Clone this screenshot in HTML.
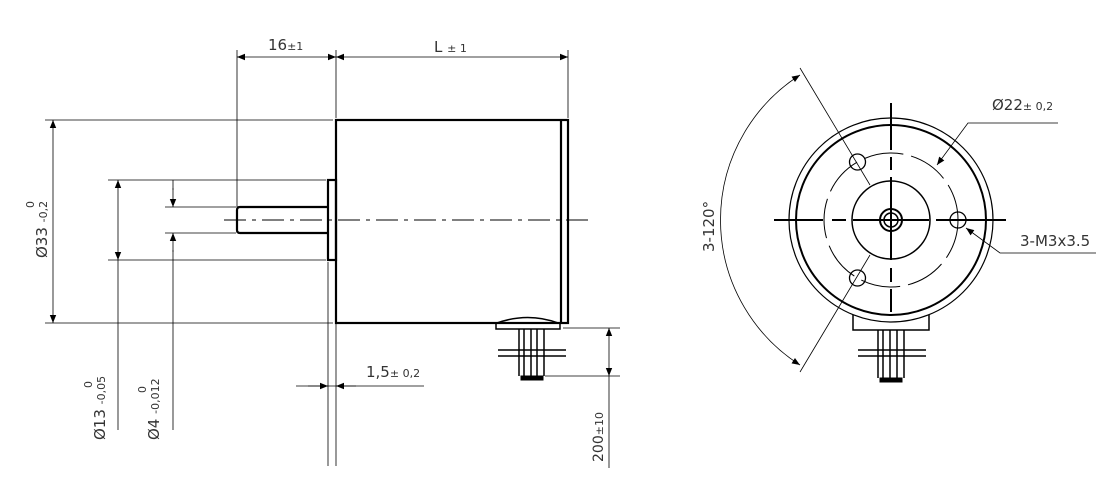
<!DOCTYPE html>
<html><head><meta charset="utf-8"><style>
html,body{margin:0;padding:0;background:#fff;width:1104px;height:480px;overflow:hidden}
text{font-family:"DejaVu Sans","Liberation Sans",sans-serif;fill:#333}
</style></head><body>
<svg width="1104" height="480" viewBox="0 0 1104 480" xmlns="http://www.w3.org/2000/svg">
<defs>
<marker id="a" viewBox="0 0 10 10" refX="10" refY="5" markerWidth="17" markerHeight="8" markerUnits="userSpaceOnUse" orient="auto-start-reverse"><path d="M0,1 L10,5 L0,9z" fill="#000"/></marker>
</defs>
<g stroke="#000" fill="none">
<g stroke-width="0.8">
<line x1="237" y1="50" x2="237" y2="207"/>
<line x1="336" y1="50" x2="336" y2="118"/>
<line x1="568" y1="50" x2="568" y2="118"/>
<line x1="45" y1="120" x2="333" y2="120"/>
<line x1="45" y1="323" x2="333" y2="323"/>
<line x1="108" y1="180" x2="326" y2="180"/>
<line x1="108" y1="260" x2="326" y2="260"/>
<line x1="165" y1="207" x2="236" y2="207"/>
<line x1="165" y1="233" x2="236" y2="233"/>
<line x1="328" y1="262" x2="328" y2="466"/>
<line x1="336" y1="323" x2="336" y2="466"/>
<line x1="563" y1="328" x2="620" y2="328"/>
<line x1="545" y1="376" x2="620" y2="376"/>
<line x1="118" y1="260" x2="118" y2="430"/>
<line x1="173" y1="250" x2="173" y2="430"/>
<line x1="609" y1="376" x2="609" y2="468"/>
<line x1="296" y1="386" x2="424" y2="386"/>
</g>
<g stroke-width="0.8" marker-start="url(#a)" marker-end="url(#a)">
<line x1="237" y1="57" x2="336" y2="57"/>
<line x1="336" y1="57" x2="568" y2="57"/>
<line x1="53" y1="120" x2="53" y2="323"/>
<line x1="118" y1="180" x2="118" y2="260"/>
<line x1="609" y1="328" x2="609" y2="376"/>
</g>
<line x1="173" y1="188" x2="173" y2="207" stroke-width="0.8" marker-end="url(#a)"/>
<line x1="173" y1="252" x2="173" y2="233" stroke-width="0.8" marker-end="url(#a)"/>
<line x1="173" y1="180" x2="173" y2="190" stroke-width="0.8"/>
<line x1="308" y1="386" x2="328" y2="386" stroke-width="0.8" marker-end="url(#a)"/>
<line x1="356" y1="386" x2="336" y2="386" stroke-width="0.8" marker-end="url(#a)"/>
<g stroke-width="2.2">
<rect x="336" y="120" width="232" height="203"/>
<line x1="561" y1="120" x2="561" y2="323"/>
<rect x="328" y="180" width="8" height="80"/>
<path d="M328,207 H240 Q237,207 237,210 V230 Q237,233 240,233 H328"/>
</g>
<line x1="224" y1="220" x2="592" y2="220" stroke-width="1" stroke-dasharray="22,6,4,6"/>
<g stroke-width="1.5">
<path d="M496,323 V329 H560 V323"/>
<path d="M497,323 Q528,312 558,323"/>
<line x1="519" y1="329" x2="519" y2="376"/>
<line x1="524" y1="329" x2="524" y2="376"/>
<line x1="531" y1="329" x2="531" y2="376"/>
<line x1="537" y1="329" x2="537" y2="376"/>
<line x1="544" y1="329" x2="544" y2="376"/>
<line x1="498" y1="350" x2="566" y2="350"/>
<line x1="498" y1="356" x2="566" y2="356"/>
<path d="M521,376 h22 v4 h-22z" fill="#000" stroke-width="1"/>
</g>
<g stroke-width="2">
<circle cx="891" cy="220" r="95"/>
<circle cx="891" cy="220" r="39" stroke-width="1.5"/>
<circle cx="891" cy="220" r="11"/>
<circle cx="891" cy="220" r="7" stroke-width="1.5"/>
<line x1="774" y1="220" x2="823" y2="220"/>
<line x1="832" y1="220" x2="846" y2="220"/>
<line x1="853" y1="220" x2="929" y2="220"/>
<line x1="936" y1="220" x2="1006" y2="220"/>
<line x1="891" y1="103" x2="891" y2="150"/>
<line x1="891" y1="157" x2="891" y2="170"/>
<line x1="891" y1="177" x2="891" y2="260"/>
<line x1="891" y1="268" x2="891" y2="282"/>
<line x1="891" y1="289" x2="891" y2="312"/>
</g>
<circle cx="891" cy="220" r="102" stroke-width="1.2"/>
<circle cx="891" cy="220" r="67" stroke-width="1" stroke-dasharray="40,8"/>
<g stroke-width="1.3">
<circle cx="958" cy="220" r="8"/>
<circle cx="857.5" cy="162" r="8"/>
<circle cx="857.5" cy="278" r="8"/>
</g>
<g stroke-width="0.8">
<line x1="800" y1="68" x2="870" y2="185"/>
<line x1="800" y1="372" x2="870" y2="255"/>
<path d="M800,75 A172,172 0 0 0 800,365" marker-start="url(#a)" marker-end="url(#a)"/>
<polyline points="937,165 968,123 1058,123" marker-start="url(#a)"/>
<polyline points="966,228 1000,253 1096,253" marker-start="url(#a)"/>
</g>
<g stroke-width="1.5">
<path d="M853,315 V330 H929 V315"/>
<line x1="878" y1="330" x2="878" y2="378"/>
<line x1="883" y1="330" x2="883" y2="378"/>
<line x1="890" y1="330" x2="890" y2="378"/>
<line x1="897" y1="330" x2="897" y2="378"/>
<line x1="904" y1="330" x2="904" y2="378"/>
<line x1="858" y1="350" x2="926" y2="350"/>
<line x1="858" y1="356" x2="926" y2="356"/>
<path d="M880,378 h22 v4 h-22z" fill="#000" stroke-width="1"/>
</g>
</g>
<text x="268" y="50" font-size="15">16<tspan font-size="11">±1</tspan></text>
<text x="434" y="52" font-size="15">L <tspan font-size="11">± 1</tspan></text>
<text x="366" y="377" font-size="15">1,5<tspan font-size="11">± 0,2</tspan></text>
<text x="992" y="110" font-size="15">Ø22<tspan font-size="11">± 0,2</tspan></text>
<text x="1020" y="246" font-size="15">3-M3x3.5</text>
<text transform="translate(714,252) rotate(-90)" font-size="15">3-120°</text>
<text transform="translate(47,258) rotate(-90)" font-size="15">Ø33 <tspan font-size="11">-0,2</tspan></text>
<text transform="translate(34,208) rotate(-90)" font-size="11">0</text>
<text transform="translate(105,440) rotate(-90)" font-size="15">Ø13 <tspan font-size="11">-0,05</tspan></text>
<text transform="translate(92,388) rotate(-90)" font-size="11">0</text>
<text transform="translate(159,440) rotate(-90)" font-size="15">Ø4 <tspan font-size="11">-0,012</tspan></text>
<text transform="translate(146,393) rotate(-90)" font-size="11">0</text>
<text transform="translate(603,462) rotate(-90)" font-size="14">200<tspan font-size="11">±10</tspan></text>
</svg>
</body></html>
